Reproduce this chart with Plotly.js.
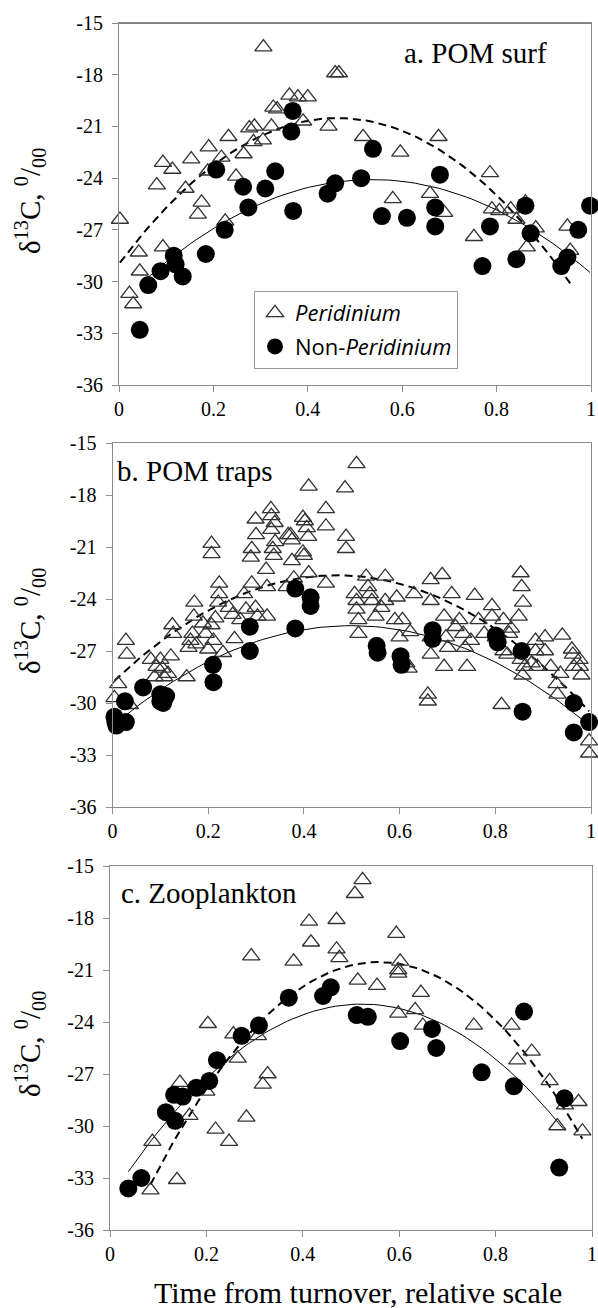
<!DOCTYPE html>
<html><head><meta charset="utf-8">
<script src="https://cdn.plot.ly/plotly-3.0.1.min.js"></script>
<style>html,body{margin:0;padding:0;background:#fff}#chart{width:598px;height:1308px}</style>
</head><body><div id="chart"></div>
<script>
// ---------- Panel a: POM surf ----------
var aPeriX = [0.002,0.022,0.03,0.042,0.044,0.08,0.093,0.093,0.113,0.141,0.153,0.167,0.175,0.188,0.19,0.217,0.225,0.232,0.248,0.264,0.276,0.285,0.287,0.305,0.306,0.323,0.327,0.335,0.361,0.379,0.39,0.4,0.444,0.458,0.466,0.517,0.58,0.596,0.659,0.677,0.689,0.752,0.786,0.79,0.806,0.83,0.842,0.861,0.864,0.883,0.95,0.956];
var aPeriY = [-26.4,-30.7,-31.3,-28.3,-29.4,-24.4,-23.1,-28.0,-23.5,-24.6,-22.9,-26.1,-25.4,-23.6,-22.2,-22.8,-26.5,-21.6,-23.9,-22.6,-21.1,-21.9,-21.0,-21.8,-16.4,-21.0,-19.9,-20.0,-19.2,-19.3,-20.7,-19.3,-21.0,-17.9,-17.9,-21.6,-25.2,-22.5,-24.9,-21.6,-26.0,-27.4,-23.7,-25.8,-25.9,-25.8,-26.4,-25.4,-28.0,-26.9,-26.8,-28.2];
var aNonX = [0.044,0.062,0.088,0.116,0.12,0.135,0.184,0.206,0.224,0.263,0.274,0.31,0.331,0.365,0.368,0.369,0.442,0.458,0.513,0.538,0.557,0.61,0.67,0.67,0.68,0.77,0.786,0.842,0.861,0.872,0.937,0.95,0.973,0.998];
var aNonY = [-32.8,-30.2,-29.4,-28.5,-29.0,-29.7,-28.4,-23.5,-27.0,-24.5,-25.7,-24.6,-23.6,-21.3,-20.1,-25.9,-24.9,-24.3,-24.0,-22.3,-26.2,-26.3,-25.7,-26.8,-23.8,-29.1,-26.8,-28.7,-25.6,-27.2,-29.1,-28.6,-27.0,-25.6];

// ---------- Panel b: POM traps ----------
var bPeriX = [0.004,0.012,0.028,0.03,0.036,0.08,0.092,0.088,0.1,0.104,0.108,0.116,0.122,0.125,0.127,0.155,0.163,0.167,0.17,0.171,0.159,0.175,
0.207,0.207,0.189,0.195,0.2,0.207,0.211,0.215,0.223,0.223,0.221,0.231,0.243,0.251,0.255,0.267,0.275,0.279,0.291,0.291,0.289,0.299,0.3,0.299,0.303,
0.323,0.323,0.321,0.331,0.332,0.332,0.335,0.337,0.339,0.34,0.367,0.372,0.375,0.375,0.379,0.364,
0.398,0.402,0.406,0.409,0.398,0.4,0.41,0.41,0.446,0.446,0.446,0.486,0.488,0.488,0.51,0.506,0.51,0.51,0.514,0.514,
0.53,0.534,0.538,0.542,0.55,0.57,0.57,0.562,0.59,0.594,0.6,0.606,0.614,0.622,0.63,0.619,
0.659,0.659,0.665,0.665,0.665,0.665,0.689,0.693,0.697,0.701,0.693,0.709,0.717,0.725,0.733,0.737,0.741,0.749,0.757,0.765,0.777,
0.793,0.793,0.801,0.813,0.817,0.825,0.829,0.817,0.833,0.849,0.853,0.855,0.858,0.857,0.861,0.853,
0.876,0.884,0.884,0.888,0.904,0.904,0.916,0.928,0.93,0.936,0.94,0.96,0.962,0.964,0.976,0.977,0.98,0.996,0.996];
var bPeriY = [-29.7,-28.9,-26.4,-27.2,-30.1,-27.5,-27.9,-28.5,-27.5,-28.0,-28.5,-28.3,-27.3,-25.5,-26.0,-28.5,-26.4,-26.0,-25.0,-24.2,-26.8,-26.6,
-20.8,-21.4,-25.4,-26.0,-26.9,-25.5,-26.4,-25.1,-23.1,-23.7,-24.2,-27.1,-24.5,-24.9,-26.3,-25.2,-23.7,-24.6,-23.1,-21.1,-21.6,-19.4,-20.3,-24.5,-25.0,
-25.0,-23.3,-22.3,-18.8,-19.2,-20.0,-21.1,-21.5,-19.6,-20.7,-20.3,-20.3,-20.6,-21.8,-22.8,-23.3,
-19.3,-19.5,-19.9,-20.4,-21.3,-21.5,-17.5,-22.5,-18.8,-19.8,-23.1,-17.6,-20.4,-21.1,-16.2,-23.7,-24.1,-24.6,-26.0,-25.2,
-22.7,-23.3,-23.7,-24.1,-25.0,-22.7,-24.1,-24.5,-25.2,-23.9,-26.2,-25.2,-27.7,-25.9,-23.7,-28.0,
-29.5,-29.9,-22.9,-24.1,-26.2,-27.2,-22.6,-25.0,-26.2,-26.8,-27.9,-23.7,-25.6,-25.2,-26.0,-26.8,-27.9,-26.4,-23.8,-25.2,-26.0,
-24.4,-25.0,-26.2,-30.1,-27.0,-27.2,-26.0,-25.2,-25.7,-25.0,-22.5,-23.3,-24.2,-28.4,-27.9,-27.5,
-27.7,-26.4,-27.0,-27.9,-26.2,-27.0,-27.9,-28.9,-29.5,-28.3,-26.1,-26.9,-27.2,-27.9,-27.5,-27.9,-28.4,-32.2,-32.9];
var bNonX = [0.004,0.006,0.008,0.028,0.026,0.064,0.1,0.1,0.106,0.112,0.21,0.211,0.287,0.287,0.382,0.414,0.414,0.382,0.552,0.554,0.602,0.604,0.669,0.669,0.801,0.805,0.855,0.857,0.964,0.964,0.996];
var bNonY = [-30.8,-31.1,-31.3,-31.1,-29.9,-29.1,-29.5,-29.9,-30.0,-29.6,-27.8,-28.8,-25.6,-27.0,-23.4,-23.9,-24.4,-25.7,-26.7,-27.1,-27.3,-27.8,-25.8,-26.3,-26.1,-26.5,-27.0,-30.5,-30.0,-31.7,-31.1];

// ---------- Panel c: Zooplankton ----------
var cPeriX = [0.084,0.088,0.139,0.145,0.165,0.2,0.203,0.219,0.247,0.256,0.265,0.283,0.293,0.307,0.317,0.327,0.381,0.413,0.417,0.47,0.47,0.476,0.508,0.524,0.514,0.554,0.594,0.598,0.602,0.598,0.598,0.633,0.645,0.649,0.755,0.833,0.845,0.875,0.912,0.928,0.944,0.972,0.98];
var cPeriY = [-33.7,-30.9,-33.1,-27.5,-29.4,-28.0,-24.1,-30.2,-30.9,-24.7,-26.1,-29.5,-20.2,-24.8,-27.6,-27.0,-20.5,-18.2,-19.4,-18.1,-19.8,-20.3,-16.6,-15.8,-21.6,-21.9,-18.9,-21.0,-20.5,-21.2,-23.5,-23.3,-22.3,-24.2,-24.2,-24.2,-26.2,-25.7,-27.4,-30.0,-28.8,-28.6,-30.3];
var cNonX = [0.038,0.065,0.116,0.133,0.135,0.151,0.179,0.206,0.222,0.273,0.309,0.371,0.442,0.458,0.512,0.535,0.602,0.668,0.677,0.771,0.838,0.859,0.932,0.943];
var cNonY = [-33.6,-33.0,-29.2,-28.2,-29.7,-28.3,-27.8,-27.4,-26.2,-24.8,-24.2,-22.6,-22.5,-22.0,-23.6,-23.7,-25.1,-24.4,-25.5,-26.9,-27.7,-23.4,-32.4,-28.4];

// ---------- Axis ticks & labels ----------
var xTickVals = [0,0.2,0.4,0.6,0.8,1];
var xTickText = ['0','0.2','0.4','0.6','0.8','1'];
var yTickVals = [-36,-33,-30,-27,-24,-21,-18,-15];
var yTickText = ['-36','-33','-30','-27','-24','-21','-18','-15'];
var panelLabels = ['a. POM surf','b. POM traps','c. Zooplankton'];
var seriesNames = ['<i>Peridinium</i>','Non-<i>Peridinium</i>'];
var xTitle = 'Time from turnover, relative scale';
var yTitle = '\u03b4<sup>13</sup>C, <sup>0</sup>/<sub>00</sub>';

// Polynomial (order 2) least-squares trendline, as in the spreadsheet
function quadFit(xs, ys){
  var n=xs.length,S=[0,0,0,0,0],T=[0,0,0];
  for(var i=0;i<n;i++){var x=xs[i],y=ys[i],p=1;
    for(var k=0;k<5;k++){S[k]+=p;if(k<3)T[k]+=p*y;p*=x;}}
  var M=[[S[0],S[1],S[2],T[0]],[S[1],S[2],S[3],T[1]],[S[2],S[3],S[4],T[2]]];
  for(var c=0;c<3;c++){var piv=c;for(var r=c+1;r<3;r++)if(Math.abs(M[r][c])>Math.abs(M[piv][c]))piv=r;
    var t=M[c];M[c]=M[piv];M[piv]=t;
    for(var r2=0;r2<3;r2++){if(r2===c)continue;var f=M[r2][c]/M[c][c];for(var k2=c;k2<4;k2++)M[r2][k2]-=f*M[c][k2];}}
  return [M[0][3]/M[0][0],M[1][3]/M[1][1],M[2][3]/M[2][2]];
}
function trendTrace(xs, ys, xa, ya, dash, width){
  var co=quadFit(xs,ys),mn=Math.min.apply(null,xs),mx=Math.max.apply(null,xs),tx=[],ty=[];
  for(var i=0;i<=80;i++){var x=mn+(mx-mn)*i/80;tx.push(x);ty.push(co[0]+co[1]*x+co[2]*x*x);}
  return {x:tx,y:ty,xaxis:xa,yaxis:ya,mode:'lines',line:{color:'#000',width:width,dash:dash},showlegend:false,hoverinfo:'skip'};
}

var W=598,H=1308;
var SERIF='"Liberation Serif", "Times New Roman", serif';
var panels=[
  {px:aPeriX,py:aPeriY,nx:aNonX,ny:aNonY,l:119,r:591,t:23,b:385},
  {px:bPeriX,py:bPeriY,nx:bNonX,ny:bNonY,l:112.5,r:591,t:443,b:807},
  {px:cPeriX,py:cPeriY,nx:cNonX,ny:cNonY,l:110,r:592,t:866,b:1230}
];
var data=[],layout={width:W,height:H,margin:{l:0,r:0,t:0,b:0},paper_bgcolor:'#fff',plot_bgcolor:'#fff',
  font:{family:SERIF,color:'#000'},annotations:[],shapes:[],
  showlegend:true,
  legend:{x:254/W,y:1-291/H,xanchor:'left',yanchor:'top',bgcolor:'#fff',bordercolor:'#9a9a9a',borderwidth:1,
    font:{family:'"Open Sans", sans-serif',size:22,color:'#000'},traceorder:'grouped',tracegroupgap:2,itemwidth:30}
};
var axCol='#8c8c8c';
panels.forEach(function(p,i){
  var s=i===0?'':String(i+1), xa='x'+s, ya='y'+s;
  data.push(trendTrace(p.px,p.py,xa,ya,'8px,5px',2));
  data.push(trendTrace(p.nx,p.ny,xa,ya,'solid',1));
  data.push({x:p.px,y:p.py,xaxis:xa,yaxis:ya,mode:'markers',name:seriesNames[0],legendgroup:'p',showlegend:i===0,cliponaxis:false,
    marker:{symbol:'triangle-up-open',size:15,color:'#333',line:{width:1.3,color:'#333'}}});
  data.push({x:p.nx,y:p.ny,xaxis:xa,yaxis:ya,mode:'markers',name:seriesNames[1],legendgroup:'n',showlegend:i===0,cliponaxis:false,
    marker:{symbol:'circle',size:18,color:'#000'}});
  var axBase={showline:true,linecolor:axCol,linewidth:1,mirror:true,ticks:'outside',ticklen:6,tickcolor:axCol,tickwidth:1,
    showgrid:false,zeroline:false,tickfont:{family:SERIF,size:20,color:'#000'}};
  layout['xaxis'+s]=Object.assign({},axBase,{domain:[p.l/W,p.r/W],anchor:ya,range:[0,1],tickmode:'array',tickvals:xTickVals,ticktext:xTickText});
  layout['yaxis'+s]=Object.assign({},axBase,{domain:[1-p.b/H,1-p.t/H],anchor:xa,range:[-36,-15],tickmode:'array',tickvals:yTickVals,ticktext:yTickText,ticklabelstandoff:5});
  layout.annotations.push({xref:'paper',yref:'paper',x:30/W,y:1-(p.t+178)/H,text:yTitle,textangle:-90,showarrow:false,
    font:{family:SERIF,size:29,color:'#000'},xanchor:'center',yanchor:'middle'});
});
layout.annotations.push({xref:'paper',yref:'paper',x:549/W,y:1-53/H,xanchor:'right',yanchor:'middle',showarrow:false,text:panelLabels[0],font:{size:29,family:SERIF}});
layout.annotations.push({xref:'paper',yref:'paper',x:115/W,y:1-471/H,xanchor:'left',yanchor:'middle',showarrow:false,text:panelLabels[1],font:{size:29,family:SERIF}});
layout.annotations.push({xref:'paper',yref:'paper',x:119/W,y:1-893/H,xanchor:'left',yanchor:'middle',showarrow:false,text:panelLabels[2],font:{size:29,family:SERIF}});
layout.annotations.push({xref:'paper',yref:'paper',x:358/W,y:1-1292/H,xanchor:'center',yanchor:'middle',showarrow:false,text:xTitle,font:{size:30,family:SERIF}});
layout.shapes.push({type:'line',xref:'x',yref:'y',x0:0,x1:1,y0:-15,y1:-15,line:{color:'#000',width:1}});

Plotly.newPlot('chart',data,layout,{staticPlot:true});
</script></body></html>
